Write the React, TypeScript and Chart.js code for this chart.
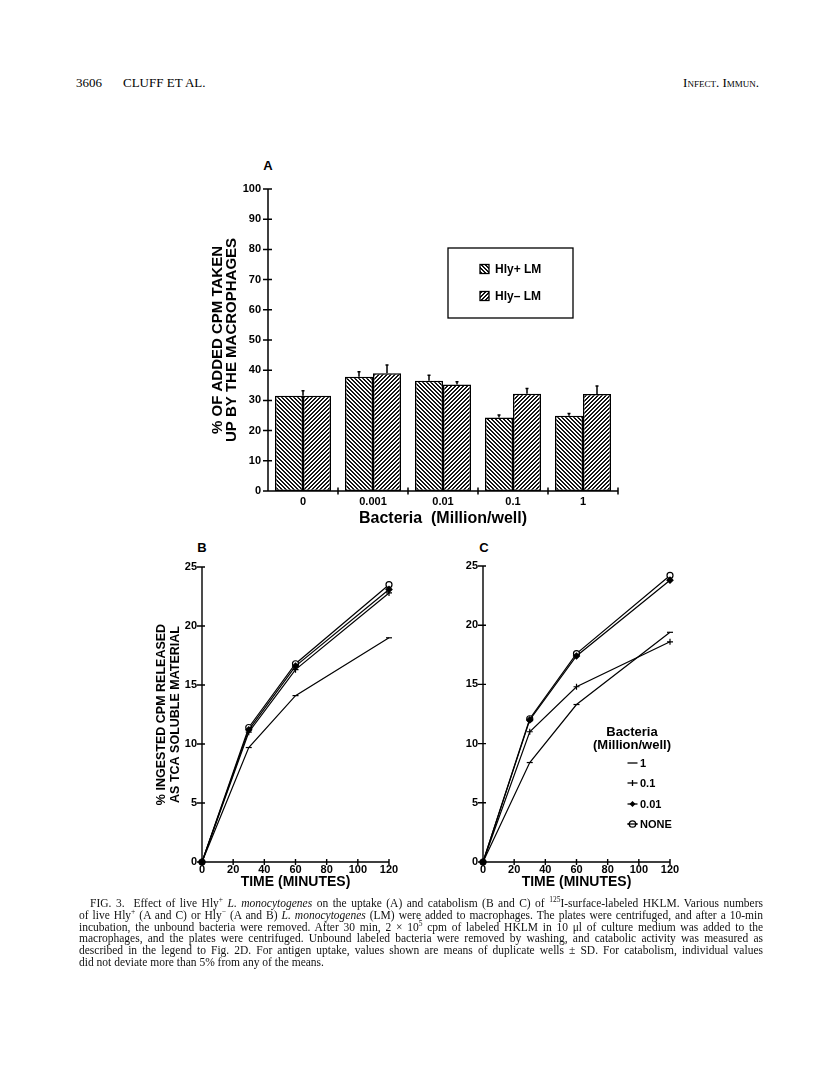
import React, { useEffect, useRef } from 'react';
import { Chart, registerables } from 'chart.js';

Chart.register(...registerables);

// ---------- Panel A data (uptake) ----------
const bacteriaLabels = ['0', '0.001', '0.01', '0.1', '1'];
const uptakeHlyPlus = [31.5, 37.8, 36.5, 24.3, 24.9];
const uptakeHlyMinus = [31.5, 39.0, 35.3, 32.2, 32.1];
const sdHlyPlus = [1.7, 1.7, 1.8, 0.9, 0.8];
const sdHlyMinus = [1.7, 2.7, 0.9, 1.7, 2.7];
const seriesLabelsA = ['Hly+ LM', 'Hly\u2013 LM'];

// ---------- Panels B & C data (catabolism) ----------
const timeMinutes = [0, 30, 60, 120];
const doseLabels = ['1', '0.1', '0.01', 'NONE'];
const releaseB1 = [0, 9.7, 14.1, 19.0];
const releaseB01 = [0, 11.0, 16.3, 22.8];
const releaseB001 = [0, 11.2, 16.6, 23.1];
const releaseBNone = [0, 11.4, 16.8, 23.5];
const releaseC1 = [0, 8.4, 13.3, 19.4];
const releaseC01 = [0, 11.0, 14.8, 18.6];
const releaseC001 = [0, 12.0, 17.4, 23.8];
const releaseCNone = [0, 12.1, 17.6, 24.2];

const FONT = '"Liberation Sans", Arial, Helvetica, sans-serif';
const SERIF = '"Liberation Serif", "Times New Roman", serif';

const pointStyles = ['line', 'cross', 'rectRot', 'circle'];
const pointFills = ['#000', '#000', '#000', '#fff'];

function makeHatch(dir: 'back' | 'fwd'): CanvasPattern {
  const s = 4;
  const c = document.createElement('canvas');
  c.width = s;
  c.height = s;
  const g = c.getContext('2d')!;
  const img = g.createImageData(s, s);
  for (let yy = 0; yy < s; yy++) {
    for (let xx = 0; xx < s; xx++) {
      const k = dir === 'back' ? (((xx - yy) % s) + s) % s : (xx + yy) % s;
      const v = k < 2 ? 20 : 255;
      const o = (yy * s + xx) * 4;
      img.data[o] = v;
      img.data[o + 1] = v;
      img.data[o + 2] = v;
      img.data[o + 3] = 255;
    }
  }
  g.putImageData(img, 0, 0);
  return g.createPattern(c, 'repeat')!;
}

function crossAxes(cfg: { yOut: number; yIn: number; xUp: number; xDown: number; category?: boolean; lw?: number }) {
  return {
    id: 'crossAxes',
    afterDatasetsDraw(chart: any) {
      const { ctx, chartArea: ca, scales } = chart;
      const x = scales.x;
      const y = scales.y;
      ctx.save();
      ctx.strokeStyle = '#000';
      ctx.lineWidth = cfg.lw ?? 1.5;
      ctx.beginPath();
      ctx.moveTo(ca.left, ca.top);
      ctx.lineTo(ca.left, ca.bottom);
      ctx.lineTo(ca.right, ca.bottom);
      y.ticks.forEach((t: any) => {
        const py = y.getPixelForValue(t.value);
        ctx.moveTo(ca.left - cfg.yOut, py);
        ctx.lineTo(ca.left + cfg.yIn, py);
      });
      if (cfg.category) {
        const n = x.ticks.length;
        const half = (x.getPixelForValue(1) - x.getPixelForValue(0)) / 2;
        for (let i = 0; i < n; i++) {
          const px = x.getPixelForValue(i) + half;
          ctx.moveTo(px, ca.bottom - cfg.xUp);
          ctx.lineTo(px, ca.bottom + cfg.xDown);
        }
      } else {
        x.ticks.forEach((t: any) => {
          const px = x.getPixelForValue(t.value);
          ctx.moveTo(px, ca.bottom - cfg.xUp);
          ctx.lineTo(px, ca.bottom + cfg.xDown);
        });
      }
      ctx.stroke();
      ctx.restore();
    },
  };
}

const errorBarsA = {
  id: 'errorBarsA',
  afterDatasetsDraw(chart: any) {
    const { ctx, scales } = chart;
    const y = scales.y;
    const m0 = chart.getDatasetMeta(0);
    const m1 = chart.getDatasetMeta(1);
    ctx.save();
    ctx.strokeStyle = '#000';
    ctx.lineWidth = 1.5;
    ctx.beginPath();
    const draw = (px: number, v: number, sd: number) => {
      ctx.moveTo(px, y.getPixelForValue(v));
      ctx.lineTo(px, y.getPixelForValue(v + sd));
      ctx.moveTo(px - 1.5, y.getPixelForValue(v + sd));
      ctx.lineTo(px + 1.5, y.getPixelForValue(v + sd));
    };
    for (let i = 0; i < bacteriaLabels.length; i++) {
      if (i === 0) {
        const px = (m0.data[0].x + m1.data[0].x) / 2;
        draw(px, uptakeHlyPlus[0], sdHlyPlus[0]);
      } else {
        draw(m0.data[i].x, uptakeHlyPlus[i], sdHlyPlus[i]);
        draw(m1.data[i].x, uptakeHlyMinus[i], sdHlyMinus[i]);
      }
    }
    ctx.stroke();
    ctx.restore();
  },
};

const legendA = {
  id: 'legendA',
  afterDraw(chart: any) {
    const { ctx, chartArea: ca } = chart;
    const bx = ca.left + 180;
    const by = ca.top + 59;
    const bw = 125;
    const bh = 70;
    ctx.save();
    ctx.strokeStyle = '#000';
    ctx.lineWidth = 1.3;
    ctx.strokeRect(bx, by, bw, bh);
    chart.data.datasets.forEach((ds: any, i: number) => {
      const cy = by + 21 + i * 27;
      ctx.fillStyle = ds.backgroundColor;
      ctx.fillRect(bx + 32, cy - 4.5, 9, 9);
      ctx.lineWidth = 1.3;
      ctx.strokeRect(bx + 32, cy - 4.5, 9, 9);
      ctx.fillStyle = '#000';
      ctx.font = `bold 12px ${FONT}`;
      ctx.textBaseline = 'middle';
      ctx.textAlign = 'left';
      ctx.fillText(ds.label, bx + 47, cy + 0.5);
    });
    ctx.restore();
  },
};

function drawLegendMarker(ctx: CanvasRenderingContext2D, i: number, x: number, y: number) {
  ctx.beginPath();
  ctx.moveTo(x - 5, y);
  ctx.lineTo(x + 5, y);
  ctx.stroke();
  const style = pointStyles[i];
  if (style === 'cross') {
    ctx.beginPath();
    ctx.moveTo(x, y - 3);
    ctx.lineTo(x, y + 3);
    ctx.stroke();
  } else if (style === 'rectRot') {
    ctx.beginPath();
    ctx.moveTo(x, y - 3);
    ctx.lineTo(x + 3, y);
    ctx.lineTo(x, y + 3);
    ctx.lineTo(x - 3, y);
    ctx.closePath();
    ctx.fill();
  } else if (style === 'circle') {
    ctx.beginPath();
    ctx.arc(x, y, 3.2, 0, Math.PI * 2);
    ctx.fillStyle = '#fff';
    ctx.fill();
    ctx.stroke();
    ctx.fillStyle = '#000';
    ctx.beginPath();
    ctx.moveTo(x - 5, y);
    ctx.lineTo(x + 5, y);
    ctx.stroke();
  }
}

const legendC = {
  id: 'legendC',
  afterDraw(chart: any) {
    const { ctx, chartArea: ca } = chart;
    ctx.save();
    ctx.fillStyle = '#000';
    ctx.strokeStyle = '#000';
    ctx.lineWidth = 1.3;
    ctx.textBaseline = 'middle';
    ctx.textAlign = 'center';
    ctx.font = `bold 13px ${FONT}`;
    ctx.fillText('Bacteria', ca.left + 149, ca.top + 166);
    ctx.fillText('(Million/well)', ca.left + 149, ca.top + 179);
    ctx.textAlign = 'left';
    ctx.font = `bold 11px ${FONT}`;
    const ys = [197, 217, 238, 258];
    chart.data.datasets.forEach((ds: any, i: number) => {
      const cy = ca.top + ys[i];
      drawLegendMarker(ctx, i, ca.left + 149.5, cy);
      ctx.fillStyle = '#000';
      ctx.fillText(ds.label, ca.left + 157, cy + 0.5);
    });
    ctx.restore();
  },
};

const tickFont = { family: FONT, size: 11, weight: 'bold' as const, lineHeight: 1 };

function lineConfig(series: number[][], lay: { padLeft: number; yWidth: number; padRight: number; padTop: number; yTitle?: string[] }, extraPlugins: any[]) {
  return {
    type: 'line' as const,
    data: {
      datasets: series.map((vals, i) => ({
        label: doseLabels[i],
        data: timeMinutes.map((t, k) => ({ x: t, y: vals[k] })),
        borderColor: '#000',
        borderWidth: 1.2,
        pointStyle: pointStyles[i],
        pointRadius: 3,
        pointBorderWidth: 1.2,
        pointBackgroundColor: pointFills[i],
        pointBorderColor: '#000',
        tension: 0,
        fill: false,
        clip: false as any,
      })),
    },
    options: {
      responsive: false,
      animation: false as const,
      events: [],
      layout: { padding: { left: lay.padLeft, right: lay.padRight, top: lay.padTop, bottom: 0 } },
      plugins: { legend: { display: false }, tooltip: { enabled: false } },
      scales: {
        x: {
          type: 'linear' as const,
          min: 0,
          max: 120,
          grid: { display: false, drawTicks: false },
          border: { display: false },
          ticks: { stepSize: 20, font: tickFont, color: '#000', padding: 2, maxRotation: 0 },
          title: {
            display: true,
            text: 'TIME (MINUTES)',
            color: '#000',
            font: { family: FONT, size: 14, weight: 'bold' as const, lineHeight: 1 },
            padding: { top: 0, bottom: 11 },
          },
          afterFit: (s: any) => {
            s.height = 38;
          },
        },
        y: {
          min: 0,
          max: 25,
          grid: { display: false, drawTicks: false },
          border: { display: false },
          ticks: { stepSize: 5, font: tickFont, color: '#000', padding: 5 },
          title: {
            display: !!lay.yTitle,
            text: lay.yTitle || '',
            color: '#000',
            font: { family: FONT, size: 12.5, weight: 'bold' as const, lineHeight: 13.5 / 12.5 },
            padding: 0,
          },
          afterFit: (s: any) => {
            s.width = lay.yWidth;
          },
        },
      },
    },
    plugins: [crossAxes({ yOut: 5, yIn: 3, xUp: 3, xDown: 3, lw: 1.4 }), ...extraPlugins],
  };
}

export default function App() {
  const refA = useRef<HTMLCanvasElement>(null);
  const refB = useRef<HTMLCanvasElement>(null);
  const refC = useRef<HTMLCanvasElement>(null);

  useEffect(() => {
    const charts: Chart[] = [];
    const hatchBack = makeHatch('back');
    const hatchFwd = makeHatch('fwd');

    if (refA.current) {
      charts.push(
        new Chart(refA.current, {
          type: 'bar',
          data: {
            labels: bacteriaLabels,
            datasets: [
              {
                label: seriesLabelsA[0],
                data: uptakeHlyPlus,
                backgroundColor: hatchBack as any,
                borderColor: '#000',
                borderWidth: 1.5,
                borderSkipped: false,
                categoryPercentage: 0.8,
                barPercentage: 1,
              },
              {
                label: seriesLabelsA[1],
                data: uptakeHlyMinus,
                backgroundColor: hatchFwd as any,
                borderColor: '#000',
                borderWidth: 1.5,
                borderSkipped: false,
                categoryPercentage: 0.8,
                barPercentage: 1,
              },
            ],
          },
          options: {
            responsive: false,
            animation: false,
            events: [],
            layout: { padding: { left: 61, right: 32, top: 39, bottom: 0 } },
            plugins: { legend: { display: false }, tooltip: { enabled: false } },
            scales: {
              x: {
                grid: { display: false, drawTicks: false },
                border: { display: false },
                ticks: { font: tickFont, color: '#000', padding: 5.5 },
                title: {
                  display: true,
                  text: 'Bacteria  (Million/well)',
                  color: '#000',
                  font: { family: FONT, size: 16, weight: 'bold', lineHeight: 1 },
                  padding: { top: 0, bottom: 13 },
                },
                afterFit: (s: any) => {
                  s.height = 49;
                },
              },
              y: {
                min: 0,
                max: 100,
                grid: { display: false, drawTicks: false },
                border: { display: false },
                ticks: { stepSize: 10, font: tickFont, color: '#000', padding: 7 },
                title: {
                  display: true,
                  text: ['% OF ADDED CPM TAKEN', 'UP BY THE MACROPHAGES'],
                  color: '#000',
                  font: { family: FONT, size: 15, weight: 'bold', lineHeight: 14 / 15 },
                  padding: 0,
                },
                afterFit: (s: any) => {
                  s.width = 57;
                },
              },
            },
          },
          plugins: [crossAxes({ yOut: 5, yIn: 4, xUp: 3.5, xDown: 3.5, category: true }), errorBarsA, legendA],
        } as any)
      );
    }

    if (refB.current) {
      charts.push(
        new Chart(
          refB.current,
          lineConfig(
            [releaseB1, releaseB01, releaseB001, releaseBNone],
            { padLeft: 55, yWidth: 47, padRight: 21, padTop: 27, yTitle: ['% INGESTED CPM RELEASED', 'AS TCA SOLUBLE MATERIAL'] },
            []
          ) as any
        )
      );
    }

    if (refC.current) {
      charts.push(
        new Chart(
          refC.current,
          lineConfig([releaseC1, releaseC01, releaseC001, releaseCNone], { padLeft: 0, yWidth: 83, padRight: 40, padTop: 26 }, [legendC]) as any
        )
      );
    }

    return () => charts.forEach((c) => c.destroy());
  }, []);

  const abs = (l: number, t: number): React.CSSProperties => ({ position: 'absolute', left: l, top: t });
  const panelLabel: React.CSSProperties = { fontFamily: FONT, fontWeight: 'bold', fontSize: 13, lineHeight: '13px', width: 20, textAlign: 'center' };
  const sup: React.CSSProperties = { fontSize: 7.5, lineHeight: 0, verticalAlign: 'super' };
  const lineStyle = (i: number, last: boolean): React.CSSProperties => ({
    position: 'absolute',
    left: i === 0 ? 90 : 79,
    width: i === 0 ? 673 : 684,
    top: 897 + i * 11.75,
    fontFamily: SERIF,
    fontSize: 11.5,
    lineHeight: '12px',
    whiteSpace: 'nowrap',
    textAlign: last ? 'left' : 'justify',
    textAlignLast: last ? 'left' : 'justify',
    color: '#111',
  });

  return (
    <div style={{ position: 'absolute', left: 0, top: 0, width: 816, height: 1082, background: '#fff', overflow: 'hidden' }}>
      <div style={{ ...abs(76, 76), fontFamily: SERIF, fontSize: 13, lineHeight: '14px' }}>3606</div>
      <div style={{ ...abs(123, 76), fontFamily: SERIF, fontSize: 13, lineHeight: '14px' }}>CLUFF ET AL.</div>
      <div style={{ position: 'absolute', right: 57, top: 76, fontFamily: SERIF, fontSize: 13, lineHeight: '14px', fontVariant: 'small-caps' }}>Infect. Immun.</div>

      <div style={{ ...abs(258, 159), ...panelLabel }}>A</div>
      <div style={{ ...abs(192, 541), ...panelLabel }}>B</div>
      <div style={{ ...abs(474, 541), ...panelLabel }}>C</div>

      <canvas ref={refA} width={500} height={390} style={{ position: 'absolute', left: 150, top: 150 }} />
      <canvas ref={refB} width={310} height={360} style={{ position: 'absolute', left: 100, top: 540 }} />
      <canvas ref={refC} width={310} height={360} style={{ position: 'absolute', left: 400, top: 540 }} />

      <div style={lineStyle(0, false)}>
        FIG. 3.&nbsp; Effect of live Hly<sup style={sup}>+</sup> <i>L. monocytogenes</i> on the uptake (A) and catabolism (B and C) of <sup style={sup}>125</sup>I-surface-labeled HKLM. Various numbers
      </div>
      <div style={lineStyle(1, false)}>
        of live Hly<sup style={sup}>+</sup> (A and C) or Hly<sup style={sup}>−</sup> (A and B) <i>L. monocytogenes</i> (LM) were added to macrophages. The plates were centrifuged, and after a 10-min
      </div>
      <div style={lineStyle(2, false)}>
        incubation, the unbound bacteria were removed. After 30 min, 2 × 10<sup style={sup}>5</sup> cpm of labeled HKLM in 10 μl of culture medium was added to the
      </div>
      <div style={lineStyle(3, false)}>
        macrophages, and the plates were centrifuged. Unbound labeled bacteria were removed by washing, and catabolic activity was measured as
      </div>
      <div style={lineStyle(4, false)}>
        described in the legend to Fig. 2D. For antigen uptake, values shown are means of duplicate wells ± SD. For catabolism, individual values
      </div>
      <div style={lineStyle(5, true)}>did not deviate more than 5% from any of the means.</div>
    </div>
  );
}
